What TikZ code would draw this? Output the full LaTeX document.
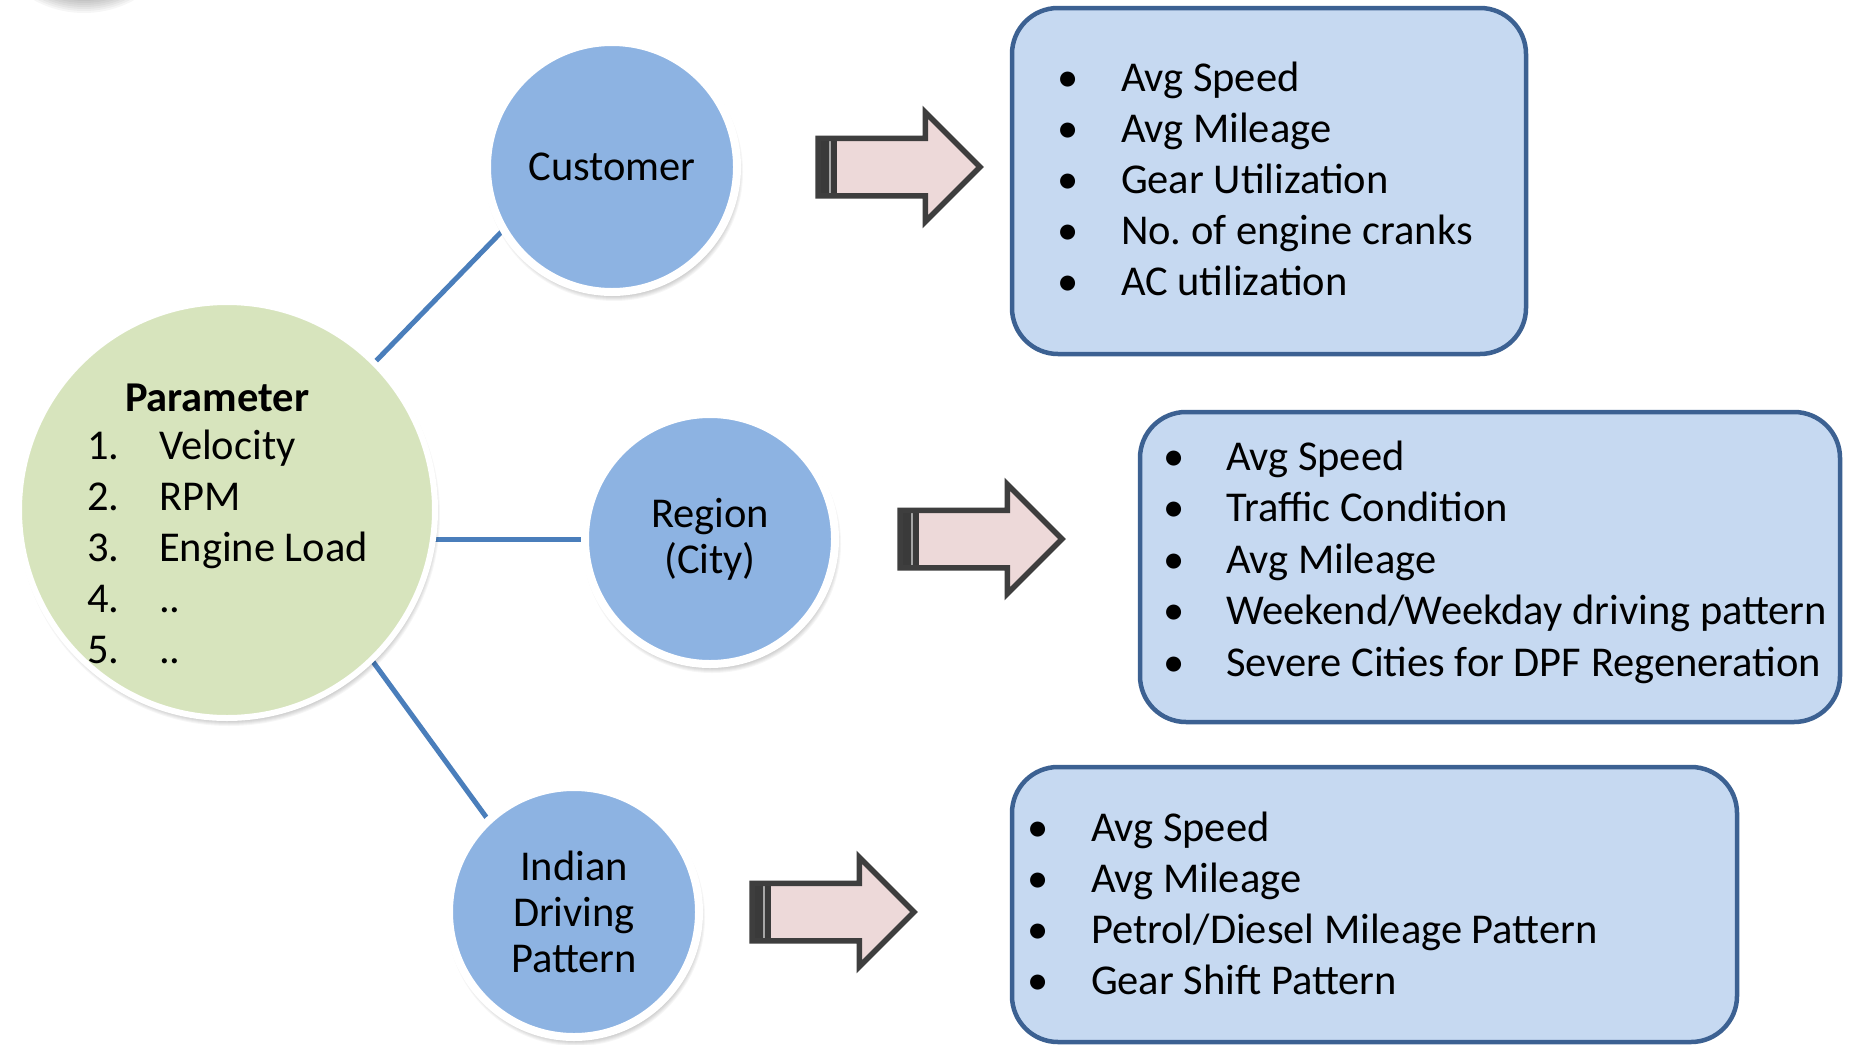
\documentclass[tikz,border=0pt]{standalone}
\usepackage{fontspec}
\setmainfont{Carlito}
\usetikzlibrary{shapes.arrows}
\definecolor{circblue}{HTML}{8DB3E2}
\definecolor{circgreen}{HTML}{D7E4BD}
\definecolor{boxfill}{HTML}{C6D9F1}
\definecolor{boxline}{HTML}{3C6192}
\definecolor{linkblue}{HTML}{4A7EBB}
\definecolor{arrowline}{HTML}{3E3E3E}
\definecolor{arrowfill}{HTML}{EDD9D9}
\definecolor{arrowdark}{HTML}{3A3A3A}
\pgfdeclarelayer{bg}
\pgfdeclarelayer{shade}
\pgfsetlayers{bg,shade,main}
\begin{document}
\frenchspacing
\begin{tikzpicture}[x=1pt,y=-1pt,
  every node/.style={font=\fontsize{42.5}{46}\selectfont, inner sep=0pt, outer sep=0pt},
  bubble/.style={circle, draw=white, line width=8pt, fill=circblue, minimum size=250pt, align=center},
  bigbubble/.style={circle, draw=white, line width=6pt, fill=circgreen, minimum size=416pt},
  infobox/.style={rectangle, rounded corners=46pt, draw=boxline, line width=4.5pt, fill=boxfill},
  link/.style={draw=linkblue, line width=5pt},
  softfill/.style={fill=black, opacity=0.035},
  blockarrow/.style={shape=single arrow, draw=arrowline, line width=5.5pt, fill=arrowfill,
    inner xsep=0pt, inner ysep=26pt, minimum height=162pt, single arrow head extend=26pt,
    anchor=tip,
    path picture={\fill[arrowdark] (path picture bounding box.south west) rectangle ([xshift=19pt]path picture bounding box.north west);
      \draw[line width=1.2pt, draw=gray!70] ([xshift=12pt]path picture bounding box.south west) -- ([xshift=12pt]path picture bounding box.north west);}},
  bul/.style={anchor=base},
  itm/.style={anchor=base west}
]
\useasboundingbox (0,0) rectangle (1849,1044);
\begin{pgfonlayer}{bg}
\fill[white] (0,0) rectangle (1849,1044);
\end{pgfonlayer}

% circles
\node[bigbubble] (param) at (227,510) {};
\node[bubble] (cust) at (612,167) {Customer};
\node[bubble] (reg) at (710,539) {Region\\(City)};
\node[bubble] (ind) at (574,912) {Indian\\Driving\\Pattern};

% soft shadows under the circles, and of a shape lying above the picture (top-left)
\begin{pgfonlayer}{shade}
\begin{scope}
\clip (0,0) rectangle (1849,1044);
\foreach \k in {0,...,7} {
  \fill[softfill] ([xshift=2pt,yshift=-5pt]param.center) circle[radius={204+\k}];
  \fill[softfill] ([xshift=2pt,yshift=-5pt]cust.center) circle[radius={122+\k}];
  \fill[softfill] ([xshift=2pt,yshift=-5pt]reg.center) circle[radius={122+\k}];
  \fill[softfill] ([xshift=2pt,yshift=-5pt]ind.center) circle[radius={122+\k}];
  \fill[softfill] (84,-91) circle[radius={90+2*\k}];
}
\end{scope}
\end{pgfonlayer}

% parameter text
\node[itm, font=\fontsize{42.5}{46}\selectfont\bfseries] (ptitle) at (125,411) {Parameter};
\foreach \t [count=\i] in {Velocity, RPM, Engine Load, {..}, {..}} {
  \node[itm] (pn\i) at (87,{459+51*(\i-1)}) {\i.};
  \node[itm] (pt\i) at (159,{459+51*(\i-1)}) {\t};
}

% connectors
\begin{pgfonlayer}{bg}
\draw[link] (param.45) -- (cust.210);
\draw[link] (param.east |- reg.west) -- (reg.west);
\draw[link] (param.-46.5) -- (ind.133);
\end{pgfonlayer}

% block arrows
\node[blockarrow] (arr1) at (980,167) {};
\node[blockarrow] (arr2) at (1062,539) {};
\node[blockarrow] (arr3) at (914,912) {};

% boxes
\node[infobox, minimum width=514pt, minimum height=346pt] (box1) at (1269,181) {};
\node[infobox, minimum width=700pt, minimum height=310pt] (box2) at (1490,567) {};
\node[infobox, minimum width=725pt, minimum height=275pt] (box3) at (1374.5,904.5) {};

\foreach \t [count=\i] in {Avg Speed, Avg Mileage, Gear Utilization, No. of engine cranks, AC utilization} {
  \node[bul] (b1d\i) at (1068,{91+51*(\i-1)}) {•};
  \node[itm] (b1t\i) at (1121,{91+51*(\i-1)}) {\t};
}
\foreach \t [count=\i] in {Avg Speed, Traffic Condition, Avg Mileage, {Weekend/Weekday driving pattern}, Severe Cities for DPF Regeneration} {
  \node[bul] (b2d\i) at (1174,{470+51.5*(\i-1)}) {•};
  \node[itm] (b2t\i) at (1226,{470+51.5*(\i-1)}) {\t};
}
\foreach \t [count=\i] in {Avg Speed, Avg Mileage, {Petrol/Diesel Mileage Pattern}, Gear Shift Pattern} {
  \node[bul] (b3d\i) at (1038,{841+51*(\i-1)}) {•};
  \node[itm] (b3t\i) at (1091,{841+51*(\i-1)}) {\t};
}
\end{tikzpicture}
\end{document}
